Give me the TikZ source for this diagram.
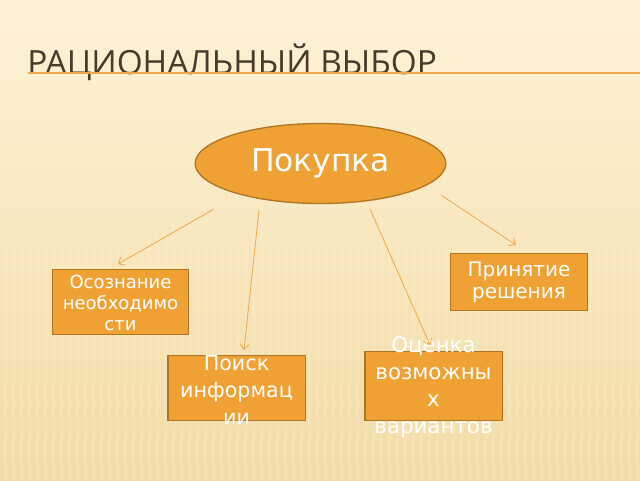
\documentclass[tikz,border=0pt]{standalone}
\usepackage{fontspec}
\setmainfont{DejaVu Sans}
\newfontfamily\titlefont{Open Sans}
\usetikzlibrary{arrows.meta,shapes.geometric}
\definecolor{bgtop}{HTML}{FDF2D4}
\definecolor{bgbot}{HTML}{F3DCA4}
\definecolor{boxfill}{HTML}{EFA233}
\definecolor{boxline}{HTML}{B07424}
\definecolor{arrowline}{HTML}{EBA748}
\definecolor{titlebrown}{HTML}{4A3A2B}
\def\stagenode{\node[draw=boxline,fill=boxfill,line width=1pt,inner sep=0pt]}

\begin{document}
\begin{tikzpicture}[x=0.75pt,y=-0.75pt,
  stagetext/.style={text=white,align=center,inner sep=0pt},
  link/.style={arrowline,line width=0.6pt,-{Straight Barb[length=4pt,width=7pt]}}]
% background
\shade[top color=bgtop,bottom color=bgbot] (0,0) rectangle (640,480);
\foreach \x in {4,12,...,640}
  \fill[white,opacity=0.12] (\x,0) rectangle (\x+3,480);
\useasboundingbox (0,0) rectangle (640,480);
% title
\node[anchor=base west,inner sep=0pt,text=titlebrown] (title) at (27,74)
  {\titlefont\fontsize{25}{30}\selectfont РАЦИОНАЛЬНЫЙ ВЫБОР};
\coordinate (rulestart) at (28,73);
\coordinate (ruleend) at (640,73);
\draw[arrowline,line width=1.2pt] (rulestart) -- (ruleend);
% centre
\node[ellipse,draw=boxline,fill=boxfill,line width=1pt,minimum width=188pt,minimum height=60pt,
  text=white,inner sep=0pt,font=\fontsize{23.5}{28}\selectfont] (buy) at (320.5,163.5) {Покупка};
% stages
\stagenode[minimum width=102pt,minimum height=49pt] (need) at (120.5,302) {};
\node[stagetext,font=\fontsize{13.5}{15.5}\selectfont] (needtext) at (120.5,303)
  {Осознание\\необходимо\\сти};
\stagenode[minimum width=103pt,minimum height=49pt] (search) at (236.5,388) {};
\node[stagetext,font=\fontsize{15.5}{20}\selectfont] (searchtext) at (236.5,390)
  {Поиск\\информац\\ии};
\stagenode[minimum width=103pt,minimum height=52pt] (assess) at (433.5,386) {};
\node[stagetext,font=\fontsize{16}{20.3}\selectfont] (assesstext) at (433.5,387)
  {Оценка\\возможны\\х\\вариантов};
\stagenode[minimum width=103pt,minimum height=43pt] (decide) at (519,282) {};
\node[stagetext,font=\fontsize{15}{16.5}\selectfont] (decidetext) at (519,282)
  {Принятие\\решения};
% arrows
\coordinate (outneed) at (214,209);
\coordinate (outsearch) at (259,210);
\coordinate (outassess) at (370,209);
\coordinate (outdecide) at (441,195);
\coordinate (inneed) at (118,264);
\coordinate (insearch) at (244,350);
\coordinate (inassess) at (430,345);
\coordinate (indecide) at (516,245);
\draw[link] (outneed) -- (inneed);
\draw[link] (outsearch) -- (insearch);
\draw[link] (outassess) -- (inassess);
\draw[link] (outdecide) -- (indecide);
\end{tikzpicture}
\end{document}
